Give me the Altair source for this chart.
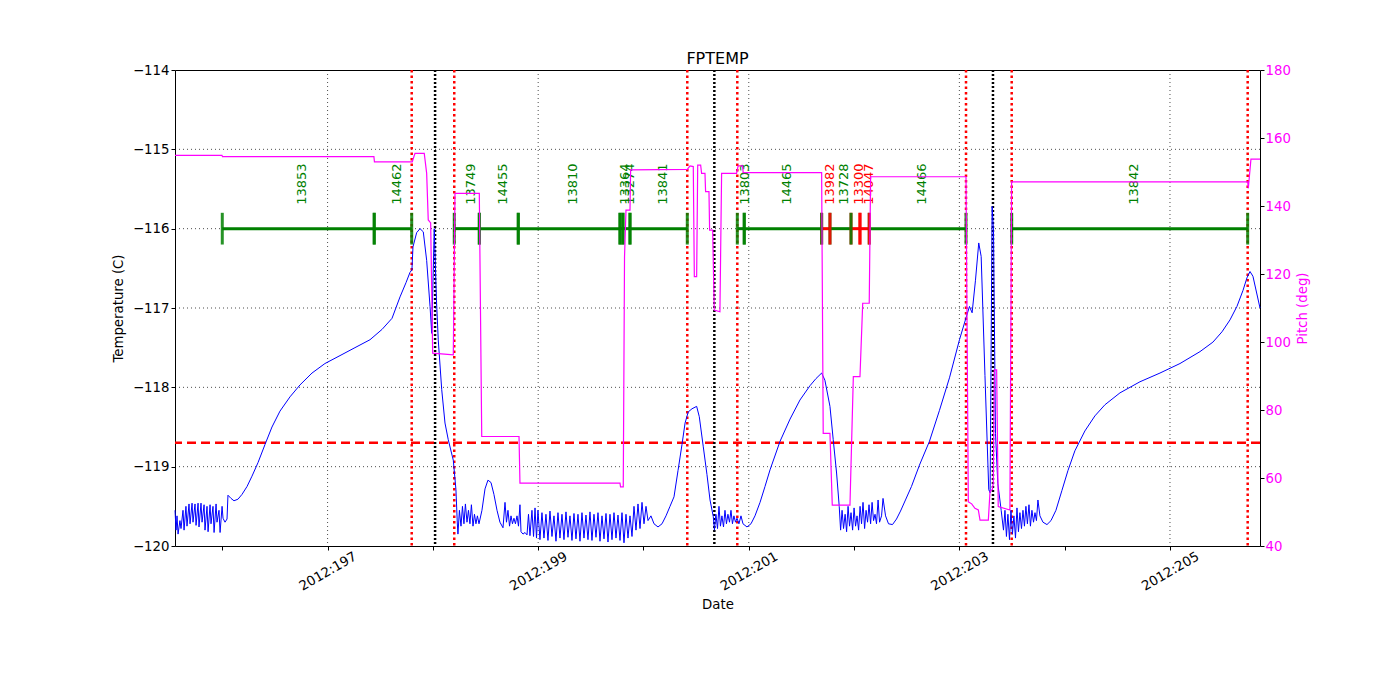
import altair as alt
import pandas as pd

FONT = "DejaVu Sans"

# ---------------- temperature (FPTEMP, deg C) vs day of year 2012 ----------------
tA_day = [195.551, 195.561, 195.570, 195.580, 195.598, 195.608, 195.627, 195.637, 195.655, 195.665,
          195.684, 195.694, 195.713, 195.722, 195.741, 195.751, 195.770, 195.779, 195.798, 195.808,
          195.827, 195.836, 195.855, 195.865, 195.884, 195.893, 195.912, 195.922, 195.941, 195.950,
          195.969, 195.979, 195.998, 196.007, 196.026, 196.045,
          196.054, 196.083, 196.111, 196.149, 196.187, 196.235, 196.282, 196.339, 196.406, 196.472,
          196.548, 196.643, 196.738, 196.852, 196.975, 197.118, 197.260, 197.403, 197.517, 197.612,
          197.688, 197.745, 197.783, 197.801, 197.811, 197.846, 197.878, 197.909, 197.941, 197.973,
          197.989,
          198.013, 198.034, 198.051, 198.084, 198.115, 198.146, 198.194, 198.219, 198.232]
tA_val = [-119.55, -119.80, -119.62, -119.85, -119.68, -119.78, -119.55, -119.80, -119.50, -119.75,
          -119.47, -119.72, -119.46, -119.70, -119.47, -119.74, -119.46, -119.76, -119.46, -119.70,
          -119.48, -119.80, -119.50, -119.82, -119.48, -119.72, -119.50, -119.83, -119.47, -119.70,
          -119.55, -119.83, -119.50, -119.65, -119.70, -119.66,
          -119.36, -119.40, -119.43, -119.41, -119.35, -119.25, -119.12, -118.95, -118.72, -118.50,
          -118.30, -118.12, -117.97, -117.82, -117.70, -117.60, -117.50, -117.40, -117.27, -117.13,
          -116.86, -116.68, -116.55, -116.52, -116.23, -116.05, -116.00, -116.04, -116.40, -116.98,
          -117.32,
          -116.00, -116.90, -117.40, -118.03, -118.45, -118.66, -118.92, -119.29, -119.71]

tB_day = [198.238, 198.252, 198.267, 198.281, 198.295, 198.309, 198.324, 198.338, 198.352, 198.366,
          198.381, 198.395, 198.409, 198.423, 198.438,
          198.466, 198.495, 198.523, 198.552, 198.580, 198.609, 198.637, 198.666,
          198.685, 198.699, 198.713, 198.728, 198.742, 198.756, 198.770, 198.784, 198.799, 198.813,
          198.827, 198.837, 198.856, 198.875, 198.894, 198.908, 198.922, 198.941, 198.956, 198.970,
          198.984, 198.998,
          199.017, 199.036, 199.055, 199.074, 199.093, 199.112, 199.131, 199.150, 199.169, 199.188,
          199.207, 199.226, 199.245, 199.264, 199.283, 199.302, 199.321, 199.340, 199.359, 199.378,
          199.397, 199.416, 199.435, 199.454, 199.473, 199.492, 199.511, 199.530, 199.549, 199.568,
          199.587, 199.606, 199.625, 199.644, 199.663, 199.682, 199.701, 199.720, 199.739, 199.758,
          199.777, 199.796, 199.815, 199.834, 199.853, 199.872, 199.891,
          199.910, 199.929, 199.948, 199.967, 199.986, 200.005, 200.024, 200.043,
          200.071, 200.100, 200.138, 200.176, 200.214, 200.252, 200.290, 200.328, 200.366, 200.395,
          200.425, 200.461, 200.505, 200.530, 200.568, 200.603, 200.632, 200.663]
tB_val = [-119.85, -119.55, -119.75, -119.50, -119.72, -119.47, -119.70, -119.55, -119.72, -119.48,
          -119.75, -119.60, -119.72, -119.62, -119.72,
          -119.55, -119.28, -119.17, -119.20, -119.35, -119.55, -119.70, -119.77,
          -119.45, -119.70, -119.55, -119.75, -119.62, -119.72, -119.65, -119.72, -119.62, -119.75,
          -119.48, -119.82, -119.85, -119.83, -119.86, -119.60, -119.87, -119.55, -119.88, -119.52,
          -119.90, -119.55,
          -119.92, -119.58, -119.90, -119.60, -119.93, -119.56, -119.88, -119.62, -119.94, -119.58,
          -119.90, -119.60, -119.92, -119.57, -119.89, -119.62, -119.93, -119.59, -119.91, -119.60,
          -119.94, -119.58, -119.90, -119.61, -119.92, -119.57, -119.93, -119.60, -119.89, -119.58,
          -119.94, -119.62, -119.91, -119.59, -119.95, -119.60, -119.92, -119.58, -119.90, -119.61,
          -119.93, -119.58, -119.96, -119.60, -119.90, -119.62, -119.88,
          -119.50, -119.80, -119.47, -119.78, -119.45, -119.72, -119.50, -119.68,
          -119.62, -119.72, -119.76, -119.72, -119.62, -119.50, -119.38, -119.05, -118.72, -118.45,
          -118.31, -118.27, -118.24, -118.37, -118.75, -119.10, -119.42, -119.63]

tC_day = [200.674, 200.688, 200.703, 200.717, 200.731, 200.745, 200.760, 200.774, 200.788, 200.802,
          200.817, 200.831, 200.845, 200.859, 200.874, 200.888,
          200.907, 200.926, 200.945, 200.983, 201.021, 201.059, 201.107, 201.154, 201.202, 201.297,
          201.392, 201.486, 201.581, 201.638, 201.692, 201.723, 201.771, 201.802, 201.834, 201.859,
          201.872, 201.886, 201.900, 201.915, 201.929, 201.943, 201.957, 201.971, 201.986, 202.000,
          202.014, 202.028, 202.043, 202.057, 202.071, 202.085, 202.100, 202.114, 202.128, 202.142,
          202.157, 202.171, 202.185, 202.199, 202.213, 202.228, 202.242, 202.261, 202.275,
          202.299, 202.327, 202.365, 202.403, 202.441, 202.488, 202.545, 202.621, 202.716, 202.811,
          202.906, 203.001, 203.064, 203.096, 203.121, 203.153, 203.184, 203.207, 203.243, 203.279,
          203.292, 203.311, 203.324, 203.343, 203.365, 203.397]
tC_val = [-119.80, -119.60, -119.78, -119.50, -119.75, -119.62, -119.76, -119.55, -119.72, -119.60,
          -119.70, -119.55, -119.72, -119.62, -119.70, -119.65,
          -119.72, -119.62, -119.72, -119.76, -119.72, -119.62, -119.45, -119.25, -119.04, -118.68,
          -118.40, -118.16, -117.98, -117.89, -117.82, -117.91, -118.24, -118.66, -119.08, -119.50,
          -119.80, -119.55, -119.78, -119.60, -119.82, -119.50, -119.75, -119.58, -119.80, -119.52,
          -119.75, -119.62, -119.80, -119.50, -119.72, -119.45, -119.78, -119.55, -119.70, -119.48,
          -119.72, -119.45, -119.68, -119.60, -119.72, -119.42, -119.70, -119.62, -119.40,
          -119.62, -119.72, -119.73, -119.66, -119.56, -119.42, -119.25, -118.98, -118.68, -118.29,
          -117.88, -117.40, -117.12, -116.98, -117.06, -116.65, -116.18, -116.35, -117.85, -119.29,
          -119.33, -115.72, -116.02, -118.58, -119.21, -119.55]

tD_day = [203.419, 203.433, 203.447, 203.461, 203.476, 203.490, 203.504, 203.518, 203.533, 203.547,
          203.561, 203.575, 203.590, 203.604, 203.618, 203.632, 203.646, 203.661, 203.675, 203.689,
          203.704, 203.718, 203.732, 203.746, 203.765,
          203.794, 203.832, 203.870, 203.917, 203.974, 204.031, 204.097, 204.192, 204.287, 204.382,
          204.525, 204.715, 204.905, 205.095, 205.285, 205.408, 205.494, 205.570, 205.636, 205.693,
          205.731, 205.760, 205.788, 205.855]
tD_val = [-119.80, -119.55, -119.88, -119.60, -119.92, -119.55, -119.85, -119.62, -119.90, -119.52,
          -119.82, -119.58, -119.78, -119.55, -119.75, -119.50, -119.72, -119.48, -119.75, -119.55,
          -119.70, -119.58, -119.68, -119.42, -119.62,
          -119.70, -119.73, -119.68, -119.55, -119.30, -119.05, -118.80, -118.55, -118.36, -118.22,
          -118.07, -117.93, -117.82, -117.70, -117.55, -117.43, -117.30, -117.15, -116.98, -116.78,
          -116.62, -116.54, -116.60, -117.00]

for d, v in [(tA_day, tA_val), (tB_day, tB_val), (tC_day, tC_val), (tD_day, tD_val)]:
    assert len(d) == len(v), (len(d), len(v))
temp_day = tA_day + tB_day + tC_day + tD_day
temp_val = tA_val + tB_val + tC_val + tD_val

# ---------------- pitch (deg) ----------------
pitch_day = [195.551, 195.997, 196.002, 197.440, 197.445, 197.804, 197.830, 197.918, 197.941, 197.956,
             197.979, 197.998, 198.194, 198.210, 198.441, 198.464, 198.818, 198.827, 199.777, 199.782,
             199.808, 199.820, 199.834, 199.872, 199.878, 200.416, 200.442, 200.473, 200.483, 200.505,
             200.515, 200.543, 200.552, 200.584, 200.590, 200.622, 200.628, 200.657, 200.672, 200.726,
             200.742, 200.884, 200.899, 200.941, 200.947, 201.692, 201.707, 201.771, 201.793, 201.961,
             201.993, 202.056, 202.082, 202.144, 202.157, 203.063, 203.085, 203.117, 203.148, 203.180,
             203.196, 203.275, 203.291, 203.313, 203.322, 203.332, 203.354, 203.369, 203.480, 203.496,
             205.738, 205.744, 205.769, 205.855]
pitch_deg = [154.9, 154.9, 154.5, 154.5, 153.0, 153.0, 155.5, 155.5, 149.6, 135.9,
             135.0, 96.7, 96.2, 143.7, 143.7, 72.2, 72.2, 58.5, 58.5, 57.4,
             57.4, 125.0, 138.8, 138.8, 150.6, 150.8, 151.8, 151.6, 119.2, 119.2,
             152.0, 152.0, 149.6, 149.6, 144.2, 144.2, 132.9, 132.9, 109.4, 108.9,
             149.6, 149.6, 151.8, 151.8, 149.8, 149.8, 73.1, 73.1, 52.0, 52.0,
             89.8, 89.8, 111.4, 111.4, 148.6, 148.6, 53.0, 52.4, 51.1, 50.6,
             47.6, 47.6, 56.0, 56.6, 58.5, 91.8, 91.8, 51.6, 50.6, 147.1,
             147.1, 145.2, 153.8, 153.8]
assert len(pitch_day) == len(pitch_deg)

# ---------------- observation segments ----------------
seg_start = [196.000, 197.443, 198.203, 198.441, 198.811, 199.777, 199.805, 199.872,
             200.891, 200.957, 201.692, 201.771, 201.971, 202.056, 202.144, 203.497]
seg_end = [197.443, 197.799, 198.441, 198.811, 199.777, 199.805, 199.872, 200.416,
           200.957, 201.692, 201.771, 201.971, 202.056, 202.144, 203.063, 205.738]
seg_obsid = ["13853", "14462", "13749", "14455", "13810", "13364", "13274", "13841",
             "13803", "14465", "13982", "13728", "13300", "14047", "14466", "13842"]
seg_color = ["green", "green", "green", "green", "green", "green", "green", "green",
             "green", "green", "red", "green", "red", "red", "green", "green"]

boundary_days = [197.799, 198.203, 200.416, 200.891, 203.063, 203.497, 205.738]
perigee_days = [198.021, 200.673, 203.319]
limit_temp = [-118.7]
grid_days = [197, 199, 201, 203, 205]
grid_temps = [-119, -118, -117, -116, -115]
tick_days = list(range(196, 206))
temp_ticks = list(range(-120, -113))
pitch_ticks = list(range(40, 181, 20))
x_domain = [195.551, 205.855]
temp_domain = [-120, -114]
pitch_domain = [40, 180]
seg_level = -116.0
bar_low, bar_high = -116.2, -115.8
label_level = -115.70

# ---------------- frames ----------------
temp_df = pd.DataFrame({"day": temp_day, "t": temp_val})
pitch_df = pd.DataFrame({"day": pitch_day, "pitch": pitch_deg})
seg_df = pd.DataFrame({"day": seg_start, "day2": seg_end, "t": seg_level,
                       "color": seg_color, "obsid": seg_obsid})
bar_df = pd.DataFrame({
    "day": seg_start + seg_end,
    "t": bar_low, "t2": bar_high,
    "color": seg_color + seg_color,
})
label_df = pd.DataFrame({
    "day": [(s + e) / 2 for s, e in zip(seg_start, seg_end)],
    "t": label_level, "obsid": seg_obsid, "color": seg_color,
})

# ---------------- encodings ----------------
x_enc = alt.X(
    "day:Q",
    scale=alt.Scale(domain=x_domain, nice=False, zero=False),
    axis=alt.Axis(
        values=tick_days,
        labelExpr="datum.value % 2 == 1 ? '2012:' + datum.value : ''",
        labelAngle=-30, labelAlign="center", labelBaseline="middle",
        labelPadding=21, tickSize=4, grid=False, domain=False,
        labelOverlap=False, labelFlush=False,
        title="Date", titlePadding=5,
    ),
)
y_temp = alt.Y(
    "t:Q",
    scale=alt.Scale(domain=temp_domain, nice=False, zero=False),
    axis=alt.Axis(values=temp_ticks, format="d", tickSize=4, labelPadding=2,
                  grid=False, domain=False, title="Temperature (C)", titlePadding=7),
)
y_pitch = alt.Y(
    "pitch:Q",
    scale=alt.Scale(domain=pitch_domain, nice=False, zero=False),
    axis=alt.Axis(orient="right", values=pitch_ticks, format="d", tickSize=4, labelPadding=1,
                  grid=False, domain=False, labelColor="#ff00ff", titleColor="#ff00ff",
                  title="Pitch (deg)", titleAngle=270, titleBaseline="top", titlePadding=5),
)
color_id = alt.Color("color:N", scale=None)

grid_v = alt.Chart(pd.DataFrame({"day": grid_days})).mark_rule(
    color="black", strokeWidth=0.7, strokeDash=[1, 3]).encode(x=x_enc)
grid_h = alt.Chart(pd.DataFrame({"t": grid_temps})).mark_rule(
    color="black", strokeWidth=0.7, strokeDash=[1, 3]).encode(y=y_temp)
limit = alt.Chart(pd.DataFrame({"t": limit_temp})).mark_rule(
    color="#ff0000", strokeWidth=2.5, strokeDash=[9, 5]).encode(y=y_temp)
red_v = alt.Chart(pd.DataFrame({"day": boundary_days})).mark_rule(
    color="#ff0000", strokeWidth=2.5, strokeDash=[2.5, 3]).encode(x=x_enc)
black_v = alt.Chart(pd.DataFrame({"day": perigee_days})).mark_rule(
    color="black", strokeWidth=2.5, strokeDash=[2, 2]).encode(x=x_enc)
temp_line = alt.Chart(temp_df).mark_line(color="#0000ff", strokeWidth=1).encode(x=x_enc, y=y_temp)
seg_lines = alt.Chart(seg_df).mark_rule(strokeWidth=3).encode(
    x=x_enc, x2=alt.X2("day2"), y=y_temp, color=color_id)
bars = alt.Chart(bar_df).mark_rule(strokeWidth=3, opacity=0.85).encode(
    x=x_enc, y=y_temp, y2=alt.Y2("t2"), color=color_id)
labels = alt.Chart(label_df).mark_text(
    angle=270, align="left", baseline="middle", dy=4, fontSize=13, font=FONT
).encode(x=x_enc, y=y_temp, text="obsid:N", color=color_id)

temp_layer = alt.layer(grid_v, grid_h, limit, red_v, black_v, temp_line, seg_lines, bars, labels)
pitch_layer = alt.Chart(pitch_df).mark_line(color="#ff00ff", strokeWidth=1.2).encode(x=x_enc, y=y_pitch)

chart = (
    alt.layer(temp_layer, pitch_layer)
    .resolve_scale(y="independent")
    .properties(
        width=1085, height=476,
        title=alt.TitleParams("FPTEMP", fontSize=16, font=FONT, fontWeight="normal",
                              anchor="middle", offset=-4, color="black"),
        autosize=alt.AutoSizeParams(type="none"),
        padding={"left": 175, "top": 70, "right": 140, "bottom": 154},
    )
    .configure_view(stroke="black", strokeWidth=1)
    .configure_axis(labelFont=FONT, titleFont=FONT, labelFontSize=13.3, titleFontSize=13.3,
                    titleFontWeight="normal", tickColor="black", labelColor="black",
                    titleColor="black")
)

chart.save("out.html", embed_options={"renderer": "svg", "actions": False})
